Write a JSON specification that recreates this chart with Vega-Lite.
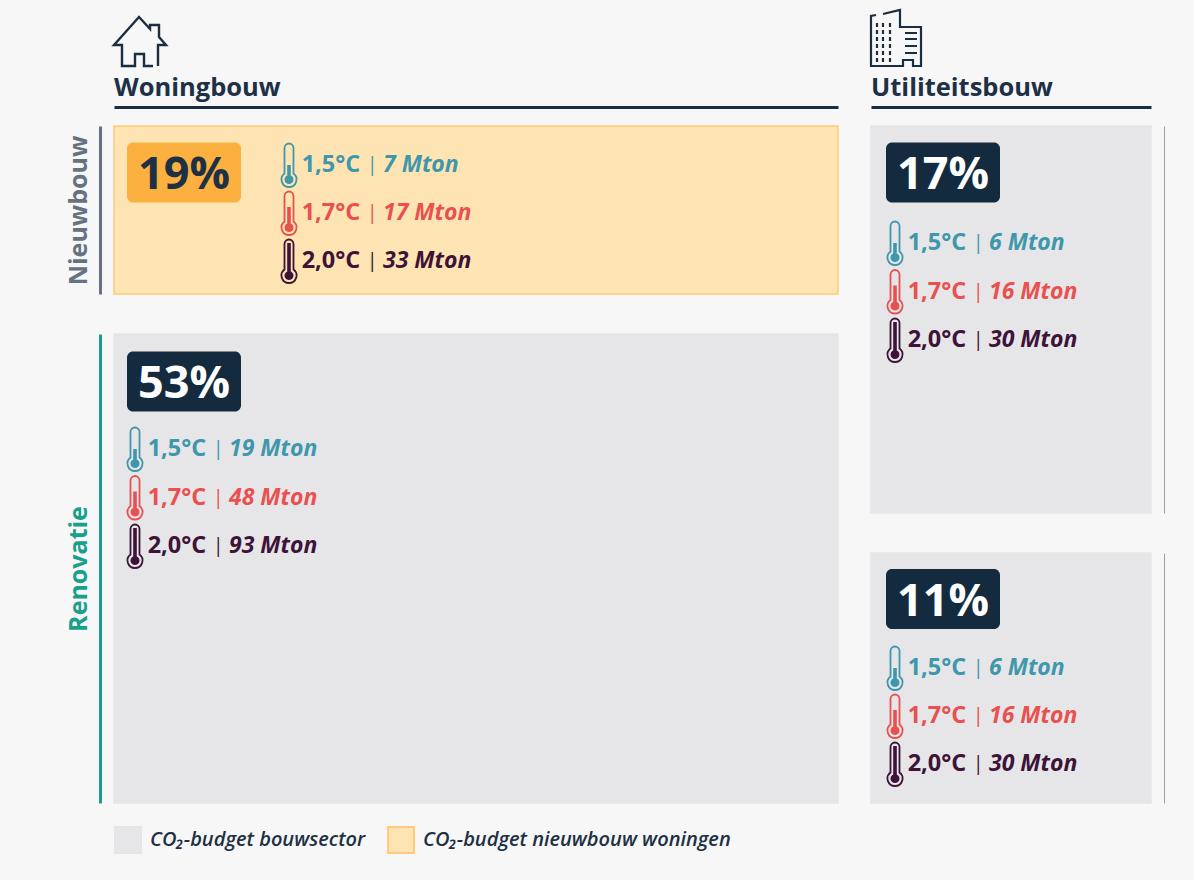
{
"$schema":"https://vega.github.io/schema/vega-lite/v6.json",
"background":"#f7f7f7",
"padding":{"left":65,"top":5,"right":30,"bottom":26},
"spacing":27,
"config":{"font":"Open Sans","view":{"stroke":null},"text":{"fontWeight":700,"baseline":"middle"},
 "legend":{"title":null,"orient":"none","legendX":0,"legendY":817,"direction":"horizontal","symbolType":"square","symbolSize":676,"symbolStrokeWidth":2,"symbolOpacity":1,"labelFont":"Open Sans","labelFontStyle":"italic","labelFontWeight":600,"labelFontSize":20,"labelColor":"#1d3045","labelOffset":8,"labelLimit":400,"columnPadding":18,"padding":0}},
"datasets":{
 "sectors":[{"sector":"Woningbouw"},{"sector":"Utiliteitsbouw"}],
 "cells":[
  {"sector":"Woningbouw","phase":"Nieuwbouw","share":19,"label":"19%","kind":"CO₂-budget nieuwbouw woningen"},
  {"sector":"Woningbouw","phase":"Renovatie","share":53,"label":"53%","kind":"CO₂-budget bouwsector"},
  {"sector":"Utiliteitsbouw","phase":"Nieuwbouw","share":17,"label":"17%","kind":"CO₂-budget bouwsector"},
  {"sector":"Utiliteitsbouw","phase":"Renovatie","share":11,"label":"11%","kind":"CO₂-budget bouwsector"}],
 "scenarios":[
  {"sector":"Woningbouw","phase":"Nieuwbouw","scenario":"1,5°C","mton":7,"label":"7 Mton"},
  {"sector":"Woningbouw","phase":"Nieuwbouw","scenario":"1,7°C","mton":17,"label":"17 Mton"},
  {"sector":"Woningbouw","phase":"Nieuwbouw","scenario":"2,0°C","mton":33,"label":"33 Mton"},
  {"sector":"Woningbouw","phase":"Renovatie","scenario":"1,5°C","mton":19,"label":"19 Mton"},
  {"sector":"Woningbouw","phase":"Renovatie","scenario":"1,7°C","mton":48,"label":"48 Mton"},
  {"sector":"Woningbouw","phase":"Renovatie","scenario":"2,0°C","mton":93,"label":"93 Mton"},
  {"sector":"Utiliteitsbouw","phase":"Nieuwbouw","scenario":"1,5°C","mton":6,"label":"6 Mton"},
  {"sector":"Utiliteitsbouw","phase":"Nieuwbouw","scenario":"1,7°C","mton":16,"label":"16 Mton"},
  {"sector":"Utiliteitsbouw","phase":"Nieuwbouw","scenario":"2,0°C","mton":30,"label":"30 Mton"},
  {"sector":"Utiliteitsbouw","phase":"Renovatie","scenario":"1,5°C","mton":6,"label":"6 Mton"},
  {"sector":"Utiliteitsbouw","phase":"Renovatie","scenario":"1,7°C","mton":16,"label":"16 Mton"},
  {"sector":"Utiliteitsbouw","phase":"Renovatie","scenario":"2,0°C","mton":30,"label":"30 Mton"}]
},
"resolve":{"scale":{"fill":"shared","stroke":"shared"},"legend":{"fill":"shared","stroke":"shared"}},
"hconcat":[
 {"spacing":40,"bounds":"flush","vconcat":[
  {"width":724,"height":77,
   "data":{"name":"sectors"},"transform":[{"filter":{"field":"sector","equal":"Woningbouw"}}],
   "encoding":{"x":{"field":"sector","type":"nominal","bandPosition":0,"scale":{"type":"band","padding":0},"axis":{"orient":"bottom","offset":21,"labels":false,"ticks":false,"title":null,"domainColor":"#1a2e40","domainWidth":3}}},
   "layer":[
    {"mark":{"type":"point","filled":false,"size":4,"stroke":"#1a2e40","strokeWidth":2.4,"opacity":1,"shape":"M39,24 H30 V12 H21 V24 H8 V3 H0 L25,-25 L36,-13 V-17 H45 V-5 L52,3 H44 V24"},
     "encoding":{"y":{"datum":"icon","type":"ordinal","scale":{"type":"point","domain":["icon","title"],"range":[33,79],"padding":0},"axis":null}}},
    {"mark":{"type":"text","align":"left","fontSize":25.5,"color":"#1d3045"},
     "encoding":{"text":{"field":"sector"},"y":{"datum":"title","type":"ordinal","scale":{"type":"point","domain":["icon","title"],"range":[33,79],"padding":0},"axis":null}}}
   ]},
  {"width":724,"height":168,
   "data":{"name":"cells"},
   "transform":[{"filter":{"field":"sector","equal":"Woningbouw"}},{"filter":{"field":"phase","equal":"Nieuwbouw"}}],
   "resolve":{"scale":{"x":"independent","y":"independent"}},
   "layer":[
    {"mark":{"type":"rect","strokeWidth":1.5},
     "encoding":{"x":{"field":"sector","type":"nominal","scale":{"type":"band","padding":0},"axis":null},
      "y":{"field":"phase","type":"nominal","scale":{"type":"band","padding":0},"axis":{"orient":"left","offset":14,"labels":false,"ticks":false,"title":"Nieuwbouw","titleFont":"Open Sans","titleFontSize":25,"titleFontWeight":700,"titleColor":"#66727f","titlePadding":9,"domainColor":"#66727f","domainWidth":3}},
      "fill":{"field":"kind","type":"nominal","scale":{"domain":["CO₂-budget bouwsector","CO₂-budget nieuwbouw woningen"],"range":["#e6e6e9","#ffe4b3"]}},
      "stroke":{"field":"kind","type":"nominal","scale":{"domain":["CO₂-budget bouwsector","CO₂-budget nieuwbouw woningen"],"range":["#e6e6e9","#fdcb7b"]}}}},
    {"encoding":{"x":{"datum":"chip","type":"ordinal","scale":{"type":"point","domain":["chip"],"range":[70,70]},"axis":null},"y":{"datum":"chip","type":"ordinal","scale":{"type":"point","domain":["chip"],"range":[46.5,46.5]},"axis":null}},
     "layer":[
      {"mark":{"type":"rect","width":114,"height":60,"cornerRadius":6,"fill":"#fbb040"}},
      {"mark":{"type":"text","fontSize":45,"fontWeight":700,"dy":2.5,"color":"#1d3045"},"encoding":{"text":{"field":"label"}}}
     ]},
    {"data":{"name":"scenarios"},
     "transform":[{"filter":{"field":"sector","equal":"Woningbouw"}},{"filter":{"field":"phase","equal":"Nieuwbouw"}}],
     "encoding":{
      "y":{"field":"scenario","type":"ordinal","scale":{"type":"point","domain":["1,5°C","1,7°C","2,0°C"],"range":[39,135],"padding":0},"axis":null},
      "color":{"field":"scenario","type":"nominal","scale":{"domain":["1,5°C","1,7°C","2,0°C"],"range":["#3f97ab","#e8514f","#3d1338"]},"legend":null}},
     "layer":[
      {"mark":{"type":"point","filled":false,"size":4,"strokeWidth":1.8,"opacity":1,"shape":"M-4.5,8.5 V-17 A4.5,4.5 0 0 1 4.5,-17 V8.5 A7.5,7.5 0 1 1 -4.5,8.5 Z"},
       "encoding":{"x":{"datum":"thermo","type":"ordinal","scale":{"type":"point","domain":["thermo","temp","sep","mton"],"range":[175,270],"padding":0},"axis":null}}},
      {"mark":{"type":"point","filled":true,"size":4,"opacity":1},
       "encoding":{"x":{"datum":"thermo","type":"ordinal","scale":{"type":"point","domain":["thermo","temp","sep","mton"],"range":[175,270],"padding":0},"axis":null},
        "shape":{"field":"scenario","type":"nominal","scale":{"domain":["1,5°C","1,7°C","2,0°C"],"range":["M-1.8,0 H1.8 V10.4 A4.5,4.5 0 1 1 -1.8,10.4 Z","M-1.8,-6 H1.8 V10.4 A4.5,4.5 0 1 1 -1.8,10.4 Z","M-1.8,-18 H1.8 V10.4 A4.5,4.5 0 1 1 -1.8,10.4 Z"]},"legend":null}}},
      {"mark":{"type":"text","align":"left","dx":-19,"fontSize":23.5},
       "encoding":{"text":{"field":"scenario"},"x":{"datum":"temp","type":"ordinal","scale":{"type":"point","domain":["thermo","temp","sep","mton"],"range":[175,270],"padding":0},"axis":null}}},
      {"mark":{"type":"text","align":"center","dx":20,"fontSize":20,"fontWeight":400,"text":"|"},
       "encoding":{"x":{"datum":"sep","type":"ordinal","scale":{"type":"point","domain":["thermo","temp","sep","mton"],"range":[175,270],"padding":0},"axis":null}}},
      {"mark":{"type":"text","align":"left","dx":-1,"fontSize":23,"fontStyle":"italic"},
       "encoding":{"text":{"field":"label"},"x":{"datum":"mton","type":"ordinal","scale":{"type":"point","domain":["thermo","temp","sep","mton"],"range":[175,270],"padding":0},"axis":null}}}
     ]}
   ]},
  {"width":724,"height":469,
   "data":{"name":"cells"},
   "transform":[{"filter":{"field":"sector","equal":"Woningbouw"}},{"filter":{"field":"phase","equal":"Renovatie"}}],
   "resolve":{"scale":{"x":"independent","y":"independent"}},
   "layer":[
    {"mark":{"type":"rect","strokeWidth":1.5},
     "encoding":{"x":{"field":"sector","type":"nominal","scale":{"type":"band","padding":0},"axis":null},
      "y":{"field":"phase","type":"nominal","scale":{"type":"band","padding":0},"axis":{"orient":"left","offset":14,"labels":false,"ticks":false,"title":"Renovatie","titleFont":"Open Sans","titleFontSize":25,"titleFontWeight":700,"titleColor":"#18a08c","titlePadding":9,"domainColor":"#18a08c","domainWidth":3}},
      "fill":{"field":"kind","type":"nominal","scale":{"domain":["CO₂-budget bouwsector","CO₂-budget nieuwbouw woningen"],"range":["#e6e6e9","#ffe4b3"]}},
      "stroke":{"field":"kind","type":"nominal","scale":{"domain":["CO₂-budget bouwsector","CO₂-budget nieuwbouw woningen"],"range":["#e6e6e9","#fdcb7b"]}}}},
    {"encoding":{"x":{"datum":"chip","type":"ordinal","scale":{"type":"point","domain":["chip"],"range":[70,70]},"axis":null},"y":{"datum":"chip","type":"ordinal","scale":{"type":"point","domain":["chip"],"range":[47.5,47.5]},"axis":null}},
     "layer":[
      {"mark":{"type":"rect","width":114,"height":60,"cornerRadius":6,"fill":"#142b3f"}},
      {"mark":{"type":"text","fontSize":45,"fontWeight":700,"dy":2.5,"color":"#ffffff"},"encoding":{"text":{"field":"label"}}}
     ]},
    {"data":{"name":"scenarios"},
     "transform":[{"filter":{"field":"sector","equal":"Woningbouw"}},{"filter":{"field":"phase","equal":"Renovatie"}}],
     "encoding":{
      "y":{"field":"scenario","type":"ordinal","scale":{"type":"point","domain":["1,5°C","1,7°C","2,0°C"],"range":[115,212],"padding":0},"axis":null},
      "color":{"field":"scenario","type":"nominal","scale":{"domain":["1,5°C","1,7°C","2,0°C"],"range":["#3f97ab","#e8514f","#3d1338"]},"legend":null}},
     "layer":[
      {"mark":{"type":"point","filled":false,"size":4,"strokeWidth":1.8,"opacity":1,"shape":"M-4.5,8.5 V-17 A4.5,4.5 0 0 1 4.5,-17 V8.5 A7.5,7.5 0 1 1 -4.5,8.5 Z"},
       "encoding":{"x":{"datum":"thermo","type":"ordinal","scale":{"type":"point","domain":["thermo","temp","sep","mton"],"range":[21,116],"padding":0},"axis":null}}},
      {"mark":{"type":"point","filled":true,"size":4,"opacity":1},
       "encoding":{"x":{"datum":"thermo","type":"ordinal","scale":{"type":"point","domain":["thermo","temp","sep","mton"],"range":[21,116],"padding":0},"axis":null},
        "shape":{"field":"scenario","type":"nominal","scale":{"domain":["1,5°C","1,7°C","2,0°C"],"range":["M-1.8,0 H1.8 V10.4 A4.5,4.5 0 1 1 -1.8,10.4 Z","M-1.8,-6 H1.8 V10.4 A4.5,4.5 0 1 1 -1.8,10.4 Z","M-1.8,-18 H1.8 V10.4 A4.5,4.5 0 1 1 -1.8,10.4 Z"]},"legend":null}}},
      {"mark":{"type":"text","align":"left","dx":-19,"fontSize":23.5},
       "encoding":{"text":{"field":"scenario"},"x":{"datum":"temp","type":"ordinal","scale":{"type":"point","domain":["thermo","temp","sep","mton"],"range":[21,116],"padding":0},"axis":null}}},
      {"mark":{"type":"text","align":"center","dx":20,"fontSize":20,"fontWeight":400,"text":"|"},
       "encoding":{"x":{"datum":"sep","type":"ordinal","scale":{"type":"point","domain":["thermo","temp","sep","mton"],"range":[21,116],"padding":0},"axis":null}}},
      {"mark":{"type":"text","align":"left","dx":-1,"fontSize":23,"fontStyle":"italic"},
       "encoding":{"text":{"field":"label"},"x":{"datum":"mton","type":"ordinal","scale":{"type":"point","domain":["thermo","temp","sep","mton"],"range":[21,116],"padding":0},"axis":null}}}
     ]}
   ]}
 ]},
 {"spacing":40,"bounds":"flush","vconcat":[
  {"width":280,"height":77,
   "data":{"name":"sectors"},"transform":[{"filter":{"field":"sector","equal":"Utiliteitsbouw"}}],
   "encoding":{"x":{"field":"sector","type":"nominal","bandPosition":0,"scale":{"type":"band","padding":0},"axis":{"orient":"bottom","offset":21,"labels":false,"ticks":false,"title":null,"domainColor":"#1a2e40","domainWidth":3}}},
   "layer":[
    {"mark":{"type":"point","filled":false,"size":4,"stroke":"#1a2e40","strokeWidth":2.2,"opacity":1,"shape":"M5,-23 L0,-22 V28 H32 V22 H42 V28 H50 V-11 H29 V-28 L12,-24 M34,-5 H46 M34,1 H46 M34,8 H46 M34,15 H46 M6,-15 V-11 M12,-15 V-11 M19,-15 V-11 M6,-8 V-4 M12,-8 V-4 M19,-8 V-4 M6,-1 V3 M12,-1 V3 M19,-1 V3 M6,6 V10 M12,6 V10 M19,6 V10 M6,13 V17 M12,13 V17 M19,13 V17 M6,20 V24 M12,20 V24 M19,20 V24"},
     "encoding":{"y":{"datum":"icon","type":"ordinal","scale":{"type":"point","domain":["icon","title"],"range":[29,79],"padding":0},"axis":null}}},
    {"mark":{"type":"text","align":"left","fontSize":25.5,"color":"#1d3045"},
     "encoding":{"text":{"field":"sector"},"y":{"datum":"title","type":"ordinal","scale":{"type":"point","domain":["icon","title"],"range":[29,79],"padding":0},"axis":null}}}
   ]},
  {"width":280,"height":387,
   "data":{"name":"cells"},
   "transform":[{"filter":{"field":"sector","equal":"Utiliteitsbouw"}},{"filter":{"field":"phase","equal":"Nieuwbouw"}}],
   "resolve":{"scale":{"x":"independent","y":"independent"}},
   "layer":[
    {"mark":{"type":"rect","strokeWidth":1.5},
     "encoding":{"x":{"field":"sector","type":"nominal","scale":{"type":"band","padding":0},"axis":null},
      "y":{"field":"phase","type":"nominal","scale":{"type":"band","padding":0},"axis":{"orient":"right","offset":13,"labels":false,"ticks":false,"title":null,"domainColor":"#9aa1a8","domainWidth":1}},
      "fill":{"field":"kind","type":"nominal","scale":{"domain":["CO₂-budget bouwsector","CO₂-budget nieuwbouw woningen"],"range":["#e6e6e9","#ffe4b3"]}},
      "stroke":{"field":"kind","type":"nominal","scale":{"domain":["CO₂-budget bouwsector","CO₂-budget nieuwbouw woningen"],"range":["#e6e6e9","#fdcb7b"]}}}},
    {"encoding":{"x":{"datum":"chip","type":"ordinal","scale":{"type":"point","domain":["chip"],"range":[72,72]},"axis":null},"y":{"datum":"chip","type":"ordinal","scale":{"type":"point","domain":["chip"],"range":[46.5,46.5]},"axis":null}},
     "layer":[
      {"mark":{"type":"rect","width":114,"height":60,"cornerRadius":6,"fill":"#142b3f"}},
      {"mark":{"type":"text","fontSize":45,"fontWeight":700,"dy":2.5,"color":"#ffffff"},"encoding":{"text":{"field":"label"}}}
     ]},
    {"data":{"name":"scenarios"},
     "transform":[{"filter":{"field":"sector","equal":"Utiliteitsbouw"}},{"filter":{"field":"phase","equal":"Nieuwbouw"}}],
     "encoding":{
      "y":{"field":"scenario","type":"ordinal","scale":{"type":"point","domain":["1,5°C","1,7°C","2,0°C"],"range":[117,214],"padding":0},"axis":null},
      "color":{"field":"scenario","type":"nominal","scale":{"domain":["1,5°C","1,7°C","2,0°C"],"range":["#3f97ab","#e8514f","#3d1338"]},"legend":null}},
     "layer":[
      {"mark":{"type":"point","filled":false,"size":4,"strokeWidth":1.8,"opacity":1,"shape":"M-4.5,8.5 V-17 A4.5,4.5 0 0 1 4.5,-17 V8.5 A7.5,7.5 0 1 1 -4.5,8.5 Z"},
       "encoding":{"x":{"datum":"thermo","type":"ordinal","scale":{"type":"point","domain":["thermo","temp","sep","mton"],"range":[24,119],"padding":0},"axis":null}}},
      {"mark":{"type":"point","filled":true,"size":4,"opacity":1},
       "encoding":{"x":{"datum":"thermo","type":"ordinal","scale":{"type":"point","domain":["thermo","temp","sep","mton"],"range":[24,119],"padding":0},"axis":null},
        "shape":{"field":"scenario","type":"nominal","scale":{"domain":["1,5°C","1,7°C","2,0°C"],"range":["M-1.8,0 H1.8 V10.4 A4.5,4.5 0 1 1 -1.8,10.4 Z","M-1.8,-6 H1.8 V10.4 A4.5,4.5 0 1 1 -1.8,10.4 Z","M-1.8,-18 H1.8 V10.4 A4.5,4.5 0 1 1 -1.8,10.4 Z"]},"legend":null}}},
      {"mark":{"type":"text","align":"left","dx":-19,"fontSize":23.5},
       "encoding":{"text":{"field":"scenario"},"x":{"datum":"temp","type":"ordinal","scale":{"type":"point","domain":["thermo","temp","sep","mton"],"range":[24,119],"padding":0},"axis":null}}},
      {"mark":{"type":"text","align":"center","dx":20,"fontSize":20,"fontWeight":400,"text":"|"},
       "encoding":{"x":{"datum":"sep","type":"ordinal","scale":{"type":"point","domain":["thermo","temp","sep","mton"],"range":[24,119],"padding":0},"axis":null}}},
      {"mark":{"type":"text","align":"left","dx":-1,"fontSize":23,"fontStyle":"italic"},
       "encoding":{"text":{"field":"label"},"x":{"datum":"mton","type":"ordinal","scale":{"type":"point","domain":["thermo","temp","sep","mton"],"range":[24,119],"padding":0},"axis":null}}}
     ]}
   ]},
  {"width":280,"height":250,
   "data":{"name":"cells"},
   "transform":[{"filter":{"field":"sector","equal":"Utiliteitsbouw"}},{"filter":{"field":"phase","equal":"Renovatie"}}],
   "resolve":{"scale":{"x":"independent","y":"independent"}},
   "layer":[
    {"mark":{"type":"rect","strokeWidth":1.5},
     "encoding":{"x":{"field":"sector","type":"nominal","scale":{"type":"band","padding":0},"axis":null},
      "y":{"field":"phase","type":"nominal","scale":{"type":"band","padding":0},"axis":{"orient":"right","offset":13,"labels":false,"ticks":false,"title":null,"domainColor":"#9aa1a8","domainWidth":1}},
      "fill":{"field":"kind","type":"nominal","scale":{"domain":["CO₂-budget bouwsector","CO₂-budget nieuwbouw woningen"],"range":["#e6e6e9","#ffe4b3"]}},
      "stroke":{"field":"kind","type":"nominal","scale":{"domain":["CO₂-budget bouwsector","CO₂-budget nieuwbouw woningen"],"range":["#e6e6e9","#fdcb7b"]}}}},
    {"encoding":{"x":{"datum":"chip","type":"ordinal","scale":{"type":"point","domain":["chip"],"range":[72,72]},"axis":null},"y":{"datum":"chip","type":"ordinal","scale":{"type":"point","domain":["chip"],"range":[46,46]},"axis":null}},
     "layer":[
      {"mark":{"type":"rect","width":114,"height":60,"cornerRadius":6,"fill":"#142b3f"}},
      {"mark":{"type":"text","fontSize":45,"fontWeight":700,"dy":2.5,"color":"#ffffff"},"encoding":{"text":{"field":"label"}}}
     ]},
    {"data":{"name":"scenarios"},
     "transform":[{"filter":{"field":"sector","equal":"Utiliteitsbouw"}},{"filter":{"field":"phase","equal":"Renovatie"}}],
     "encoding":{
      "y":{"field":"scenario","type":"ordinal","scale":{"type":"point","domain":["1,5°C","1,7°C","2,0°C"],"range":[115,211],"padding":0},"axis":null},
      "color":{"field":"scenario","type":"nominal","scale":{"domain":["1,5°C","1,7°C","2,0°C"],"range":["#3f97ab","#e8514f","#3d1338"]},"legend":null}},
     "layer":[
      {"mark":{"type":"point","filled":false,"size":4,"strokeWidth":1.8,"opacity":1,"shape":"M-4.5,8.5 V-17 A4.5,4.5 0 0 1 4.5,-17 V8.5 A7.5,7.5 0 1 1 -4.5,8.5 Z"},
       "encoding":{"x":{"datum":"thermo","type":"ordinal","scale":{"type":"point","domain":["thermo","temp","sep","mton"],"range":[24,119],"padding":0},"axis":null}}},
      {"mark":{"type":"point","filled":true,"size":4,"opacity":1},
       "encoding":{"x":{"datum":"thermo","type":"ordinal","scale":{"type":"point","domain":["thermo","temp","sep","mton"],"range":[24,119],"padding":0},"axis":null},
        "shape":{"field":"scenario","type":"nominal","scale":{"domain":["1,5°C","1,7°C","2,0°C"],"range":["M-1.8,0 H1.8 V10.4 A4.5,4.5 0 1 1 -1.8,10.4 Z","M-1.8,-6 H1.8 V10.4 A4.5,4.5 0 1 1 -1.8,10.4 Z","M-1.8,-18 H1.8 V10.4 A4.5,4.5 0 1 1 -1.8,10.4 Z"]},"legend":null}}},
      {"mark":{"type":"text","align":"left","dx":-19,"fontSize":23.5},
       "encoding":{"text":{"field":"scenario"},"x":{"datum":"temp","type":"ordinal","scale":{"type":"point","domain":["thermo","temp","sep","mton"],"range":[24,119],"padding":0},"axis":null}}},
      {"mark":{"type":"text","align":"center","dx":20,"fontSize":20,"fontWeight":400,"text":"|"},
       "encoding":{"x":{"datum":"sep","type":"ordinal","scale":{"type":"point","domain":["thermo","temp","sep","mton"],"range":[24,119],"padding":0},"axis":null}}},
      {"mark":{"type":"text","align":"left","dx":-1,"fontSize":23,"fontStyle":"italic"},
       "encoding":{"text":{"field":"label"},"x":{"datum":"mton","type":"ordinal","scale":{"type":"point","domain":["thermo","temp","sep","mton"],"range":[24,119],"padding":0},"axis":null}}}
     ]}
   ]}
 ]}
]
}
